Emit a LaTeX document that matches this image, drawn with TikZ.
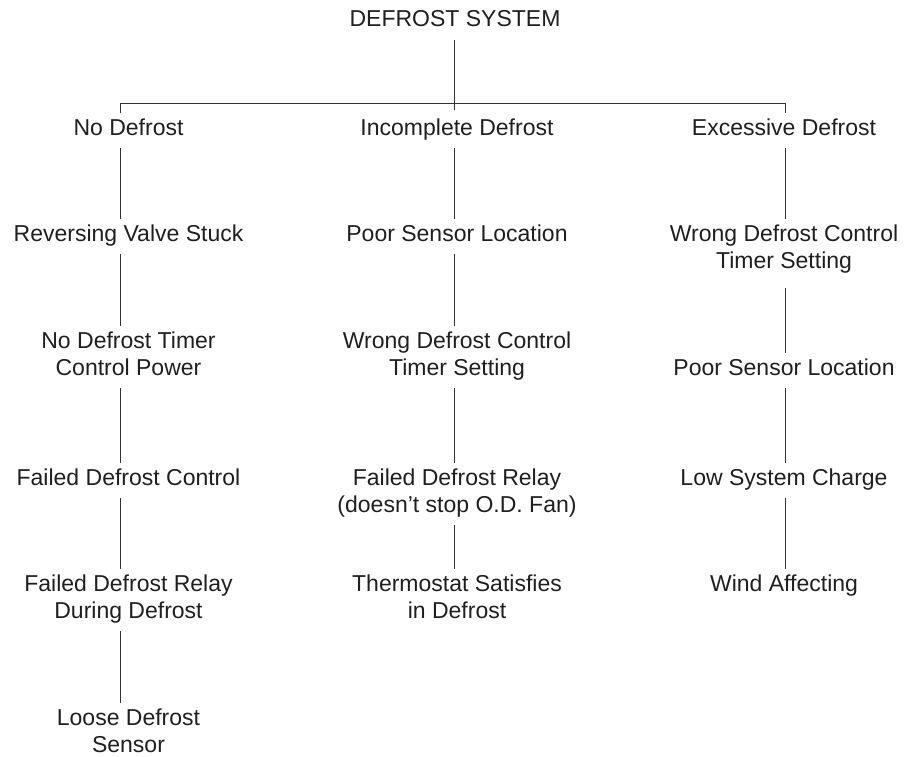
\documentclass[tikz,border=0pt]{standalone}
\usepackage{fontspec}
\setmainfont{Liberation Sans}
\newcommand\tstrut{\rule[-12.7pt]{0pt}{35pt}}
\newcommand\lblfont{\fontsize{23pt}{26.5pt}\selectfont\setlength{\lineskiplimit}{-100pt}}
\tikzset{
  lbl/.style={anchor=north, inner sep=0pt, align=center, text=black!88,
    font=\lblfont, execute at end node=\tstrut},
  conn/.style={draw=black!80, line width=0.9pt}
}
\begin{document}
\begin{tikzpicture}[x=1pt,y=-1pt]
\useasboundingbox (0,0) rectangle (905,757);
% column axes
\coordinate (cl) at (120,0);
\coordinate (cm) at (454,0);
\coordinate (cr) at (785,0);
\coordinate (bar) at (454,103.5);
\coordinate (stem) at (454,110);
% title
\node[lbl] (t) at (455,4.5) {\tstrut DEFROST SYSTEM};
% left column
\node[lbl] (l1) at (128.5,112.7) {\tstrut No Defrost};
\node[lbl] (l2) at (128.5,219) {\tstrut Reversing Valve Stuck};
\node[lbl] (l3) at (128.5,326) {\tstrut No Defrost Timer\\Control Power};
\node[lbl] (l4) at (128.5,463) {\tstrut Failed Defrost Control};
\node[lbl] (l5) at (128.5,569) {\tstrut Failed Defrost Relay\\During Defrost};
\node[lbl] (l6) at (128.5,703) {\tstrut Loose Defrost\\Sensor};
% middle column
\node[lbl] (m1) at (457,112.7) {\tstrut Incomplete Defrost};
\node[lbl] (m2) at (457,219) {\tstrut Poor Sensor Location};
\node[lbl] (m3) at (457,326) {\tstrut Wrong Defrost Control\\Timer Setting};
\node[lbl] (m4) at (457,463) {\tstrut Failed Defrost Relay\\(doesn’t stop O.D. Fan)};
\node[lbl] (m5) at (457,569) {\tstrut Thermostat Satisfies\\in Defrost};
% right column
\node[lbl] (r1) at (784,112.7) {\tstrut Excessive Defrost};
\node[lbl] (r2) at (784,219) {\tstrut Wrong Defrost Control\\Timer Setting};
\node[lbl] (r3) at (784,353) {\tstrut Poor Sensor Location};
\node[lbl] (r4) at (784,463) {\tstrut Low System Charge};
\node[lbl] (r5) at (784,569) {\tstrut Wind Affecting};
% connectors
\draw[conn] (t.south -| cm) -- (stem);
\draw[conn] (l1.north -| cl) |- (bar) -| (r1.north -| cr);
\foreach \a/\b in {l1/l2,l2/l3,l3/l4,l4/l5,l5/l6}
  \draw[conn] (\a.south -| cl) -- (\b.north -| cl);
\foreach \a/\b in {m1/m2,m2/m3,m3/m4,m4/m5}
  \draw[conn] (\a.south -| cm) -- (\b.north -| cm);
\foreach \a/\b in {r1/r2,r3/r4,r4/r5}
  \draw[conn] (\a.south -| cr) -- (\b.north -| cr);
\draw[conn, shorten <=7pt] (r2.south -| cr) -- (r3.north -| cr);
\end{tikzpicture}
\end{document}
